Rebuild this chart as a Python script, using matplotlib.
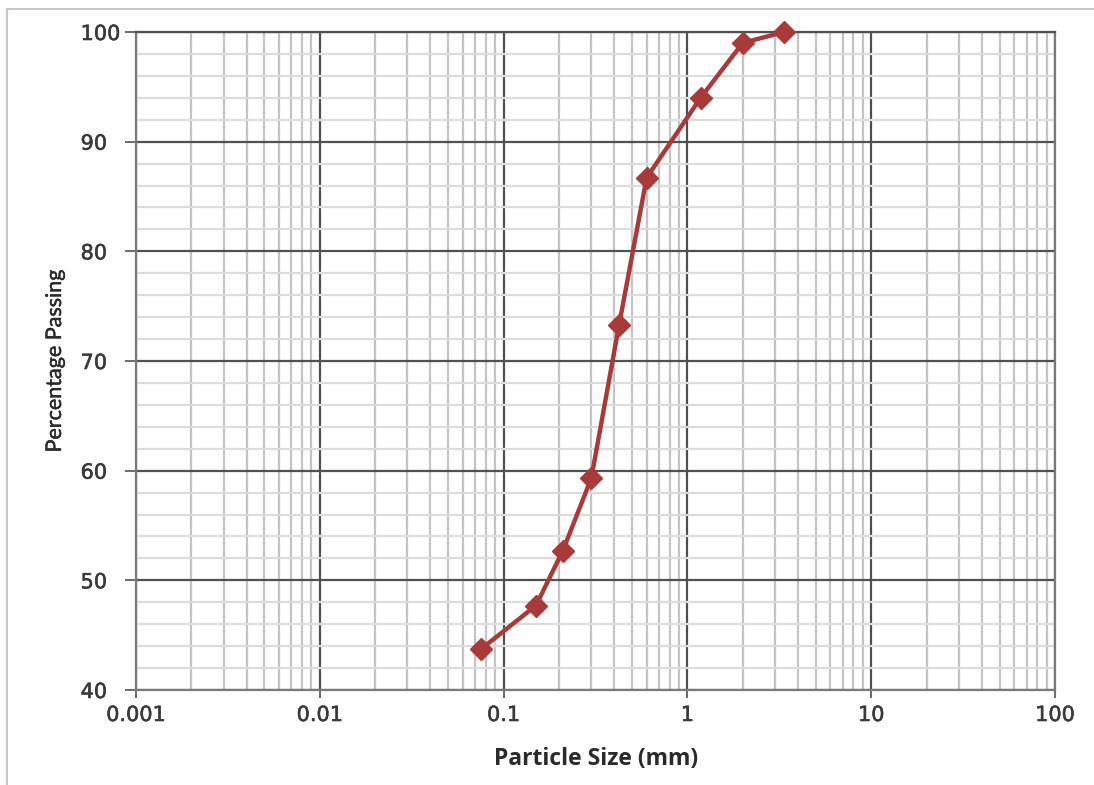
import matplotlib
matplotlib.use("Agg")
import matplotlib.pyplot as plt
import matplotlib.patheffects as pe
from matplotlib.ticker import LogLocator, FixedLocator, NullFormatter, FixedFormatter
from matplotlib.patches import Rectangle

particle_size = [0.075, 0.15, 0.21, 0.30, 0.425, 0.60, 1.18, 2.0, 3.35]
percent_passing = [43.7, 47.7, 52.7, 59.3, 73.3, 86.7, 94.0, 99.0, 100.0]
x_ticks = [0.001, 0.01, 0.1, 1, 10, 100]
x_tick_labels = ["0.001", "0.01", "0.1", "1", "10", "100"]
y_ticks = [40, 50, 60, 70, 80, 90, 100]

fig = plt.figure(figsize=(10.94, 7.85), dpi=100)
fig.patches.append(Rectangle((7/1094, -0.1), 1.2, 1 - 9/785 + 0.1, transform=fig.transFigure,
                             fill=False, edgecolor="#c8c8c8", linewidth=1.5))
ax = fig.add_axes([136/1094, 1 - 690/785, (1055-136)/1094, (690-32)/785])

ax.set_xscale("log")
ax.set_xlim(0.001, 100)
ax.set_ylim(40, 100)

ax.xaxis.set_major_locator(FixedLocator(x_ticks))
ax.xaxis.set_major_formatter(FixedFormatter(x_tick_labels))
ax.xaxis.set_minor_locator(LogLocator(base=10, subs=range(2, 10)))
ax.xaxis.set_minor_formatter(NullFormatter())
ax.yaxis.set_major_locator(FixedLocator(y_ticks))
ax.yaxis.set_minor_locator(FixedLocator([v for v in range(40, 101, 2) if v % 10]))

ax.grid(which="major", color="#505050", linewidth=1.6, zorder=1)
ax.grid(which="minor", axis="x", color="#c4c4c4", linewidth=1.6, zorder=0)
ax.grid(which="minor", axis="y", color="#dcdcdc", linewidth=1.6, zorder=0)
ax.set_axisbelow(True)

for s in ax.spines.values():
    s.set_color("#7a7a7a")
    s.set_linewidth(1.6)
ax.spines["top"].set_color("#505050")

ax.tick_params(which="major", direction="out", width=1.4, color="#6a6a6a",
               labelsize=15, labelcolor="#3a3a3a")
ax.tick_params(axis="x", which="major", length=5.8, pad=5)
ax.tick_params(axis="y", which="major", length=7.9, pad=32)
ax.tick_params(which="minor", length=0)
thick = [pe.withStroke(linewidth=0.4, foreground="#3a3a3a")]
for lab in ax.get_xticklabels() + ax.get_yticklabels():
    lab.set_fontfamily("DejaVu Sans")
    lab.set_path_effects(thick)
for lab in ax.get_yticklabels():
    lab.set_horizontalalignment("left")

ax.plot(particle_size, percent_passing, color="#A83A3A", linewidth=3.2, marker="D",
        markersize=11, markerfacecolor="#A83A3A", markeredgecolor="#A83A3A", zorder=5, clip_on=False)

fig.text(596/1094, 1 - 759/785, "Particle Size (mm)", ha="center", va="center",
         fontsize=16.5, fontweight="bold", color="#2a2a2a", family="Open Sans")
fig.text(55/1094, 1 - 361/785, "Percentage Passing", ha="center", va="center", rotation=90,
         fontsize=15.5, color="#2a2a2a", family="Lato",
         path_effects=[pe.withStroke(linewidth=0.3, foreground="#2a2a2a")])

fig.savefig("out.png", dpi=100)
